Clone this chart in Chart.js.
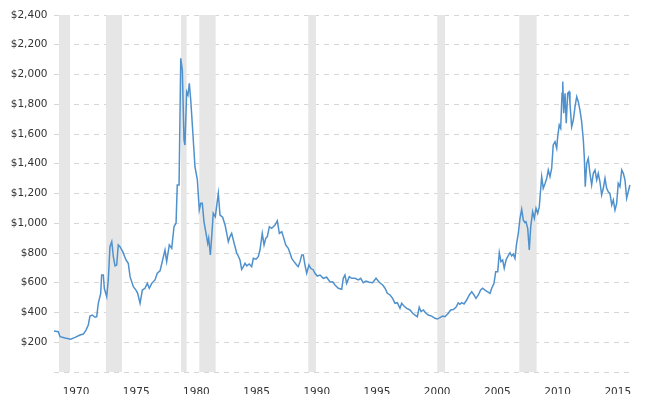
<!DOCTYPE html>
<html>
<head>
<meta charset="utf-8">
<script src="https://cdn.jsdelivr.net/npm/chart.js@4.4.0/dist/chart.umd.min.js"></script>
<style>
    html, body { margin: 0; padding: 0; background: #fff; }
</style>
</head>
<body>
<canvas id="grafico" width="651" height="394"></canvas>
<script>
// anos (posição no eixo) e preço do ouro ajustado (US$)
var anos = [
    1968.17, 1968.53, 1968.67, 1969.09, 1969.56, 1969.92, 1970.33, 1970.61, 1970.83, 1971.02,
    1971.16, 1971.35, 1971.58, 1971.72, 1971.85, 1972.05, 1972.13, 1972.27, 1972.35, 1972.55,
    1972.68, 1972.82, 1972.97, 1973.10, 1973.24, 1973.38, 1973.51, 1973.65, 1973.88, 1974.15,
    1974.34, 1974.49, 1974.76, 1974.98, 1975.12, 1975.32, 1975.51, 1975.73, 1975.92, 1976.09,
    1976.29, 1976.56, 1976.75, 1976.98, 1977.39, 1977.53, 1977.75, 1977.95, 1978.14, 1978.31,
    1978.41, 1978.56, 1978.70, 1978.83, 1978.97, 1979.05, 1979.19, 1979.30, 1979.41, 1979.53,
    1979.69, 1979.88, 1980.08, 1980.24, 1980.36, 1980.49, 1980.63, 1980.80, 1980.94, 1981.02,
    1981.16, 1981.27, 1981.40, 1981.57, 1981.82, 1981.96, 1982.18, 1982.38, 1982.52, 1982.65,
    1982.79, 1982.93, 1983.07, 1983.21, 1983.35, 1983.48, 1983.62, 1983.76, 1983.90, 1984.04,
    1984.18, 1984.39, 1984.59, 1984.73, 1984.95, 1985.14, 1985.28, 1985.47, 1985.62, 1985.76,
    1985.89, 1986.06, 1986.25, 1986.39, 1986.53, 1986.72, 1986.89, 1987.09, 1987.22, 1987.42,
    1987.63, 1987.78, 1987.92, 1988.11, 1988.33, 1988.46, 1988.61, 1988.75, 1988.88, 1989.02,
    1989.16, 1989.35, 1989.49, 1989.71, 1989.85, 1990.04, 1990.27, 1990.54, 1990.82, 1991.10,
    1991.32, 1991.51, 1991.79, 1992.07, 1992.20, 1992.34, 1992.48, 1992.70, 1992.90, 1993.17,
    1993.45, 1993.65, 1993.86, 1994.09, 1994.36, 1994.64, 1994.92, 1995.19, 1995.47, 1995.67,
    1995.86, 1996.08, 1996.30, 1996.50, 1996.69, 1996.91, 1997.05, 1997.24, 1997.47, 1997.74,
    1997.97, 1998.16, 1998.35, 1998.51, 1998.66, 1998.85, 1999.07, 1999.26, 1999.54, 1999.82,
    2000.01, 2000.23, 2000.46, 2000.65, 2000.92, 2001.12, 2001.34, 2001.56, 2001.75, 2001.89,
    2002.04, 2002.23, 2002.45, 2002.67, 2002.87, 2003.06, 2003.22, 2003.42, 2003.61, 2003.78,
    2003.97, 2004.16, 2004.39, 2004.53, 2004.72, 2004.86, 2005.03, 2005.16, 2005.30, 2005.44,
    2005.57, 2005.72, 2005.86, 2006.05, 2006.19, 2006.32, 2006.46, 2006.60, 2006.74, 2006.88,
    2007.02, 2007.15, 2007.29, 2007.38, 2007.52, 2007.65, 2007.77, 2007.93, 2008.07, 2008.21,
    2008.35, 2008.48, 2008.68, 2008.81, 2008.96, 2009.10, 2009.23, 2009.37, 2009.51, 2009.64,
    2009.79, 2009.93, 2010.01, 2010.14, 2010.26, 2010.37, 2010.43, 2010.51, 2010.62, 2010.72,
    2010.84, 2010.95, 2011.03, 2011.17, 2011.31, 2011.45, 2011.59, 2011.72, 2011.86, 2012.00,
    2012.14, 2012.22, 2012.30, 2012.42, 2012.55, 2012.69, 2012.83, 2012.97, 2013.11, 2013.25,
    2013.38, 2013.52, 2013.66, 2013.80, 2013.94, 2014.08, 2014.21, 2014.35, 2014.50, 2014.63,
    2014.77, 2014.91, 2015.04, 2015.18, 2015.33, 2015.46, 2015.60, 2015.74, 2015.87, 2016.01
];
var precos = [
    276, 271, 237, 228, 220, 233, 249, 255, 282, 316,
    376, 383, 368, 372, 462, 529, 652, 652, 563, 506,
    619, 842, 876, 775, 713, 719, 854, 842, 809, 753,
    731, 641, 574, 551, 529, 462, 551, 563, 596, 563,
    596, 619, 664, 680, 820, 742, 854, 832, 977, 1000,
    1257, 1257, 2109, 2030, 1560, 1526, 1884, 1862, 1941, 1829,
    1627, 1380, 1291, 1089, 1134, 1134, 1010, 932, 865, 899,
    787, 910, 1067, 1044, 1201, 1055, 1040, 988, 932, 876,
    910, 932, 887, 842, 798, 780, 753, 690, 708, 731,
    713, 726, 708, 764, 758, 775, 820, 932, 854, 899,
    910, 977, 966, 977, 988, 1017, 932, 943, 910, 854,
    832, 798, 764, 742, 719, 708, 742, 787, 787, 719,
    664, 719, 697, 686, 664, 645, 652, 630, 637, 605,
    607, 585, 563, 556, 630, 652, 596, 641, 630, 630,
    619, 630, 600, 611, 603, 600, 630, 603, 585, 563,
    529, 518, 495, 462, 466, 428, 462, 444, 428, 417,
    395, 383, 372, 435, 406, 417, 395, 383, 376, 361,
    356, 365, 376, 372, 395, 417, 420, 435, 465, 455,
    466, 457, 484, 518, 540, 518, 495, 518, 551, 563,
    551, 540, 529, 563, 596, 674, 674, 802, 742, 753,
    697, 753, 775, 802, 780, 793, 764, 865, 932, 1033,
    1094, 1022, 1004, 1010, 966, 820, 977, 1077, 1033, 1100,
    1067, 1110, 1313, 1235, 1268, 1302, 1358, 1313, 1369, 1526,
    1548, 1504, 1582, 1660, 1638, 1874, 1952, 1739, 1874, 1672,
    1874, 1884, 1806, 1649, 1694, 1784, 1851, 1817, 1761, 1683,
    1560, 1447, 1246, 1403, 1436, 1336, 1257, 1336, 1358, 1291,
    1336, 1279, 1190, 1235, 1302, 1235, 1212, 1201, 1123, 1156,
    1089, 1134, 1268, 1246, 1358, 1336, 1291, 1168, 1212, 1257
];
// faixas cinza (recessões)
var recessaoInicio = [1968.59, 1972.49, 1978.72, 1980.24, 1989.29, 2000.01, 2006.82];
var recessaoFim = [1969.50, 1973.82, 1979.19, 1981.60, 1989.93, 2000.65, 2008.26];

var ticksAno = [1970, 1975, 1980, 1985, 1990, 1995, 2000, 2005, 2010, 2015];
var ticksPreco = [0, 200, 400, 600, 800, 1000, 1200, 1400, 1600, 1800, 2000, 2200, 2400];

const faixasRecessao = {
    id: 'faixasRecessao',
    beforeDatasetsDraw(chart) {
        const { ctx, chartArea, scales } = chart;
        ctx.save();
        ctx.fillStyle = '#e6e6e6';
        for (let i = 0; i < recessaoInicio.length; i++) {
            const x1 = scales.x.getPixelForValue(recessaoInicio[i]);
            const x2 = scales.x.getPixelForValue(recessaoFim[i]);
            ctx.fillRect(x1, chartArea.top, x2 - x1, chartArea.bottom - chartArea.top);
        }
        ctx.restore();
    }
};

Chart.defaults.font.family = '"DejaVu Sans", Verdana, sans-serif';
Chart.defaults.font.size = 10.5;
Chart.defaults.color = '#333';

new Chart(document.getElementById('grafico'), {
    type: 'line',
    data: {
        datasets: [
            {
                data: anos.map((a, i) => ({ x: a, y: precos[i] })),
                borderColor: '#4f91cd',
                borderWidth: 1.5,
                pointRadius: 0,
                tension: 0,
                fill: false
            }
        ]
    },
    options: {
        responsive: false,
        animation: false,
        layout: { padding: { left: 0, right: 20, top: 15, bottom: 0 } },
        plugins: {
            legend: { display: false },
            tooltip: { enabled: false }
        },
        scales: {
            x: {
                type: 'linear',
                min: 1968.13,
                max: 2016.1,
                grid: { display: false },
                border: { display: false },
                afterBuildTicks: s => { s.ticks = ticksAno.map(v => ({ value: v })); },
                afterFit: s => { s.height = 22; },
                ticks: {
                    padding: 6,
                    maxRotation: 0,
                    autoSkip: false,
                    callback: v => String(v)
                }
            },
            y: {
                min: 0,
                max: 2400,
                grid: { color: '#d6d6d6', drawTicks: false },
                border: { display: false, dash: [5, 5] },
                afterBuildTicks: s => { s.ticks = ticksPreco.map(v => ({ value: v })); },
                afterFit: s => { s.width = 53.5; },
                ticks: {
                    padding: 6,
                    callback: v => v === 0 ? '' : '$' + v.toLocaleString('en-US')
                }
            }
        }
    },
    plugins: [faixasRecessao]
});
</script>
</body>
</html>
